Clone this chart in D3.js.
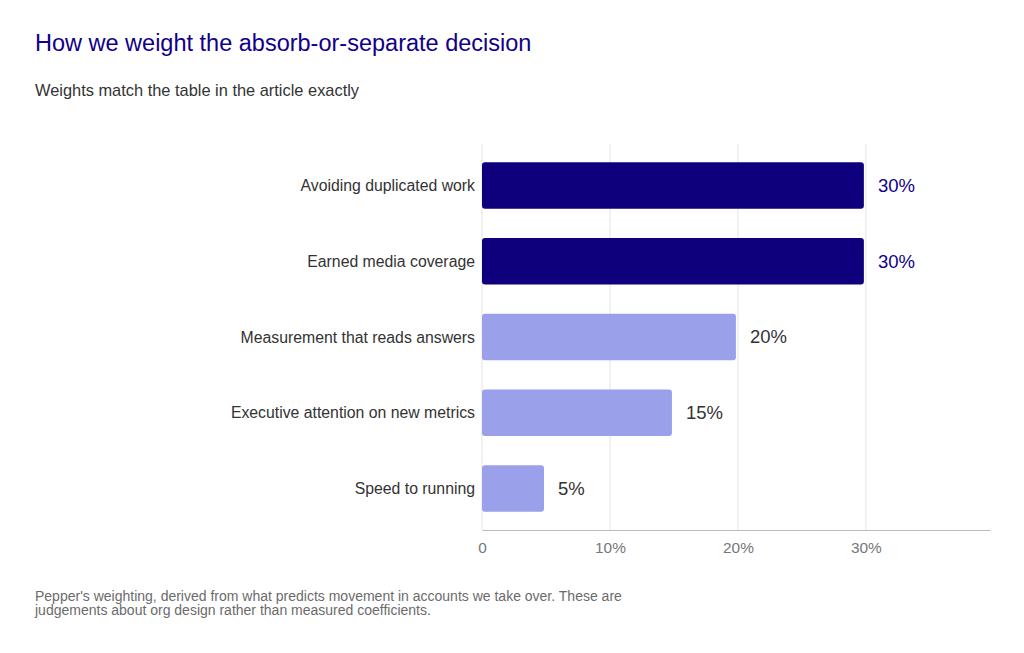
<!DOCTYPE html>
<html><head><meta charset="utf-8">
<script src="https://cdn.jsdelivr.net/npm/d3@7"></script>
<style>
body{margin:0;background:#fff;}
svg text{font-family:"Liberation Sans",Arial,Helvetica,sans-serif;}
</style></head>
<body><svg id="chart" width="1024" height="653"></svg>
<script>
const categories = ["Avoiding duplicated work","Earned media coverage","Measurement that reads answers","Executive attention on new metrics","Speed to running"];
const weights = [30,30,20,15,5];
const highlighted = [true,true,false,false,false];
const tickValues = [0,10,20,30];
const tickLabels = ["0","10%","20%","30%"];
const title = "How we weight the absorb-or-separate decision";
const subtitle = "Weights match the table in the article exactly";
const footnote = ["Pepper's weighting, derived from what predicts movement in accounts we take over. These are","judgements about org design rather than measured coefficients."];

const svg = d3.select("#chart");
const dark = "#0e007c", light = "#9aa0ea";
const x = d3.scaleLinear().domain([0,39.7]).range([482,990]);
const y = d3.scaleBand().domain(categories).range([144,530]).paddingInner(0.387).paddingOuter(0.24);

svg.append("text").attr("x",35).attr("y",51).attr("font-size",23.5).attr("fill","#10008a").text(title);
svg.append("text").attr("x",35).attr("y",96).attr("font-size",16.4).attr("fill","#333").text(subtitle);

// grid
svg.append("g").selectAll("line").data(tickValues).join("line")
  .attr("x1",d=>x(d)).attr("x2",d=>x(d)).attr("y1",144).attr("y2",530)
  .attr("stroke","#e3e3e3").attr("stroke-width",1);

// axis
const ax = svg.append("g").attr("transform","translate(0,530)")
  .call(d3.axisBottom(x).tickValues(tickValues).tickFormat((d,i)=>tickLabels[i]).tickSize(0).tickPadding(12));
ax.select(".domain").attr("stroke","#bbb").attr("stroke-width",1.2);
ax.selectAll("text").attr("font-size",15.4).attr("fill","#777").attr("font-family","Liberation Sans,Arial,sans-serif");

const rows = categories.map((c,i)=>({c,v:weights[i],h:highlighted[i]}));
svg.append("g").selectAll("rect").data(rows).join("rect")
  .attr("x",x(0)).attr("y",d=>y(d.c)).attr("width",d=>x(d.v)-x(0)-2).attr("height",y.bandwidth())
  .attr("rx",3).attr("fill",d=>d.h?dark:light);

svg.append("g").selectAll("text").data(rows).join("text")
  .attr("x",x(0)-7).attr("y",d=>y(d.c)+y.bandwidth()/2).attr("dy","0.35em")
  .attr("text-anchor","end").attr("font-size",15.8).attr("fill","#333").text(d=>d.c);

svg.append("g").selectAll("text").data(rows).join("text")
  .attr("x",d=>x(d.v)+12).attr("y",d=>y(d.c)+y.bandwidth()/2).attr("dy","0.35em")
  .attr("font-size",18.5).attr("fill",d=>d.h?"#10008a":"#333").text(d=>d.v+"%");

svg.append("g").selectAll("text").data(footnote).join("text")
  .attr("x",35).attr("y",(d,i)=>601+i*14).attr("font-size",14).attr("fill","#6b6b6b").text(d=>d);
</script></body></html>
